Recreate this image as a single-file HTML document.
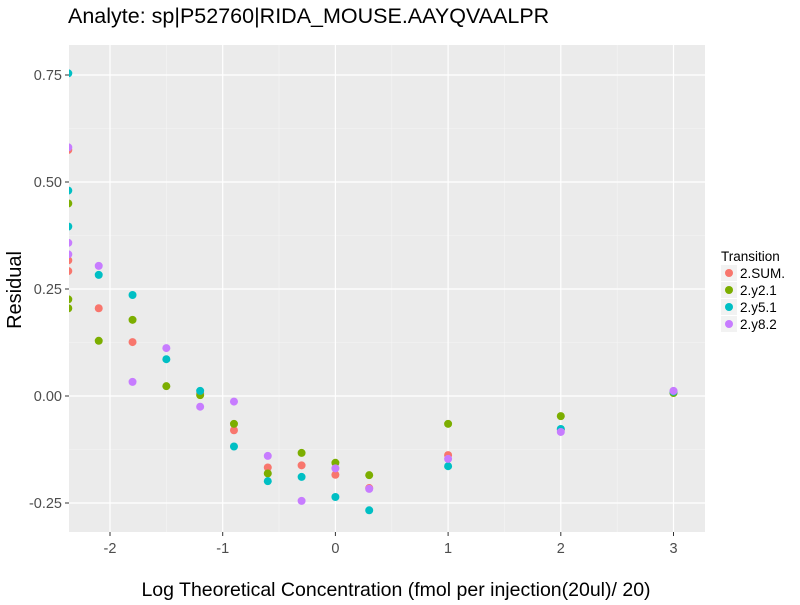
<!DOCTYPE html>
<html><head><meta charset="utf-8"><style>
body{margin:0;background:#fff;}
svg text{font-family:"Liberation Sans",sans-serif;}
</style></head><body>
<svg id="chart" width="800" height="600" xmlns="http://www.w3.org/2000/svg">
<defs><clipPath id="pc"><rect x="69" y="45" width="636" height="487"/></clipPath></defs>
<text x="68" y="23" font-size="21.5" fill="#000">Analyte: sp|P52760|RIDA_MOUSE.AAYQVAALPR</text>
<rect x="69" y="45" width="636" height="487" fill="#ebebeb"/>
<g id="grid"></g>
<g id="pts" clip-path="url(#pc)"></g>
<g id="axes"></g>
<text x="396" y="596" font-size="19.5" text-anchor="middle" fill="#000">Log Theoretical Concentration (fmol per injection(20ul)/ 20)</text>
<text transform="translate(21,290) rotate(-90)" font-size="20" text-anchor="middle" fill="#000">Residual</text>
<g id="legend">
<text x="721" y="261" font-size="13.5" fill="#000">Transition</text>
</g>
</svg>
<script>
const xTicks=[-2,-1,0,1,2,3];
const yTicks=[-0.25,0,0.25,0.5,0.75];
const yTickLabels=["-0.25","0.00","0.25","0.50","0.75"];
const seriesNames=["2.SUM.","2.y2.1","2.y5.1","2.y8.2"];
const colors=["#F8766D","#7CAE00","#00BFC4","#C77CFF"];
const xs=[-2.37,-2.37,-2.37,-2.1,-1.8,-1.5,-1.2,-0.9,-0.6,-0.3,0,0.3,1,2,3];
const sumVals=[0.575,0.317,0.292,0.205,0.126,null,0.006,-0.080,-0.167,-0.162,-0.184,-0.215,-0.138,-0.079,0.008];
const y21Vals=[0.45,0.226,0.205,0.129,0.178,0.023,0.002,-0.065,-0.181,-0.133,-0.156,-0.185,-0.065,-0.047,0.007];
const y51Vals=[0.754,0.48,0.396,0.283,0.236,0.086,0.012,-0.118,-0.199,-0.189,-0.236,-0.267,-0.164,-0.077,0.010];
const y82Vals=[0.581,0.358,0.331,0.304,0.033,0.112,-0.025,-0.013,-0.140,-0.245,-0.169,-0.217,-0.147,-0.084,0.012];
const series=[sumVals,y21Vals,y51Vals,y82Vals];
const NS="http://www.w3.org/2000/svg";
const X=v=>335.4+v*112.7;
const Y=v=>396-v*428;
function mk(t,a,p){const e=document.createElementNS(NS,t);for(const k in a)e.setAttribute(k,a[k]);p.appendChild(e);return e;}
const grid=document.getElementById('grid'),axes=document.getElementById('axes');
const xmin=-2.365;
for(let v=-2.5;v<=3.25;v+=1){if(v>xmin){const l=mk('line',{x1:X(v),x2:X(v),y1:45,y2:532,stroke:'#f5f5f5','stroke-width':0.6},grid);

}}
for(let v=-0.375;v<=0.8;v+=0.25){if(Y(v)<532&&Y(v)>45){const l=mk('line',{x1:69,x2:705,y1:Y(v),y2:Y(v),stroke:'#f5f5f5','stroke-width':0.6},grid);

}}
xTicks.forEach(v=>{const l=mk('line',{x1:X(v),x2:X(v),y1:45,y2:532,stroke:'#fff','stroke-width':1.2},grid);


const t=mk('line',{x1:X(v),x2:X(v),y1:532,y2:536,stroke:'#333','stroke-width':1},axes);


const tx=mk('text',{x:X(v),y:553,'font-size':14.5,'text-anchor':'middle',fill:'#4d4d4d'},axes);tx.textContent=v;

});
yTicks.forEach((v,i)=>{const l=mk('line',{x1:69,x2:705,y1:Y(v),y2:Y(v),stroke:'#fff','stroke-width':1.2},grid);


const t=mk('line',{x1:65,x2:69,y1:Y(v),y2:Y(v),stroke:'#333','stroke-width':1},axes);


const tx=mk('text',{x:62,y:Y(v)+5,'font-size':14.5,'text-anchor':'end',fill:'#4d4d4d'},axes);tx.textContent=yTickLabels[i];

});
const pts=document.getElementById('pts');
series.forEach((vals,s)=>{vals.forEach((v,i)=>{if(v===null)return;
const c=mk('circle',{cx:X(xs[i]),cy:Y(v),r:4,fill:colors[s]},pts);

});});
const lg=document.getElementById('legend');
seriesNames.forEach((n,i)=>{const y=273+i*17;
const r=mk('rect',{x:721,y:y-8,width:16,height:16,fill:'#f2f2f2'},lg);


const c=mk('circle',{cx:729,cy:y,r:4,fill:colors[i]},lg);


const t=mk('text',{x:740,y:y+5,'font-size':13.5,fill:'#000'},lg);t.textContent=n;

});
</script>
</body></html>
